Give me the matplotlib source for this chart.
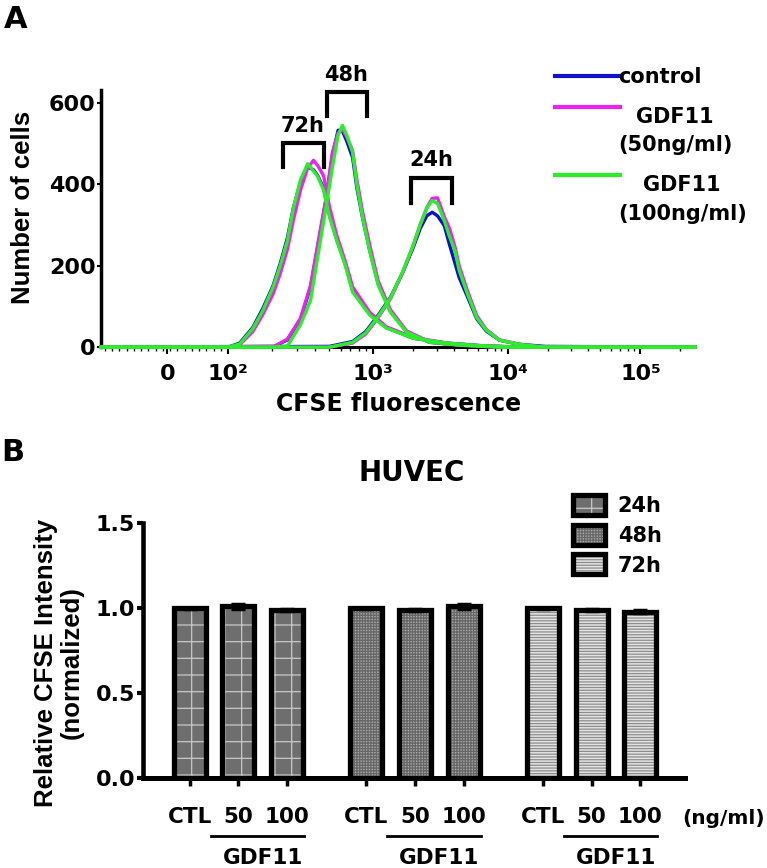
import numpy as np
import matplotlib
matplotlib.use('Agg')
import matplotlib.pyplot as plt
from matplotlib.lines import Line2D
from matplotlib.ticker import FixedLocator
from matplotlib.legend_handler import HandlerTuple

# ---- panel A: CFSE histograms, x = log10(CFSE fluorescence), y = number of cells
log_fl_72h = [2.00, 2.08, 2.17, 2.24, 2.31, 2.36, 2.41, 2.45, 2.50, 2.55, 2.59, 2.62,
              2.66, 2.70, 2.75, 2.81, 2.86, 2.98, 3.10, 3.30, 3.55, 3.79, 4.09]
cells_72h_control = [0, 10, 48, 95, 150, 205, 268, 340, 405, 442, 435, 420,
                     390, 325, 265, 203, 140, 82, 48, 22, 10, 4, 0]
cells_72h_gdf50 = [0, 6, 38, 80, 130, 180, 240, 310, 385, 440, 458, 445,
                   420, 345, 275, 210, 148, 85, 50, 24, 10, 4, 0]
cells_72h_gdf100 = [0, 8, 45, 90, 147, 200, 262, 340, 410, 450, 432, 418,
                    385, 320, 262, 200, 135, 78, 47, 22, 10, 4, 0]

log_fl_48h = [2.32, 2.41, 2.50, 2.57, 2.63, 2.68, 2.72, 2.76, 2.79, 2.82,
              2.86, 2.89, 2.93, 2.98, 3.04, 3.13, 3.25, 3.42, 3.64, 3.94]
cells_48h_control = [2, 18, 68, 148, 268, 368, 470, 532, 530, 505,
                     465, 390, 315, 235, 155, 88, 38, 12, 5, 0]
cells_48h_gdf50 = [2, 20, 71, 152, 274, 372, 477, 525, 535, 515,
                   482, 410, 330, 248, 162, 92, 40, 13, 5, 0]
cells_48h_gdf100 = [0, 3, 55, 115, 245, 350, 440, 520, 544, 520,
                    478, 397, 316, 233, 152, 86, 37, 12, 5, 0]

log_fl_24h = [2.70, 2.86, 2.95, 3.03, 3.13, 3.22, 3.30, 3.35, 3.40, 3.44, 3.48,
              3.53, 3.57, 3.61, 3.64, 3.70, 3.77, 3.84, 3.94, 4.09, 4.28]
cells_24h_control = [2, 14, 38, 74, 122, 182, 245, 290, 322, 331, 322,
                     298, 250, 205, 171, 125, 70, 40, 17, 7, 2]
cells_24h_gdf50 = [0, 10, 32, 68, 118, 182, 250, 300, 342, 365, 366,
                   320, 290, 245, 200, 140, 78, 44, 18, 7, 0]
cells_24h_gdf100 = [0, 12, 35, 71, 120, 184, 250, 299, 340, 360, 352,
                    310, 270, 235, 189, 132, 73, 42, 17, 7, 0]

conditions = ['control', 'GDF11\n(50ng/ml)', 'GDF11\n(100ng/ml)']
line_colors = ['#1010c8', '#ee22ee', '#2aee2a']

# flow axis: position of each decade on the (biexponential-like) display
decade_u = [1.0, 2.0, 3.0, 4.0, 5.0, 6.0]
decade_pos = [0, 145, 290, 425, 558, 691]
fl_ticks = [1.58, 2, 3, 4, 5]
fl_ticklabels = ['0', '10²', '10³', '10⁴', '10⁵']

# timepoint brackets: label, left, right, top, leg bottom
brackets = [('72h', 2.38, 2.66, 500, 441),
            ('48h', 2.68, 2.96, 625, 568),
            ('24h', 3.28, 3.59, 416, 353)]

# ---- panel B: relative CFSE intensity
timepoints = ['24h', '48h', '72h']
dose_labels = ['CTL', '50', '100']
rel_24h = [1.00, 1.01, 0.99]
rel_48h = [1.00, 0.99, 1.01]
rel_72h = [1.00, 0.99, 0.98]
err_24h = [0.004, 0.012, 0.006]
err_48h = [0.004, 0.008, 0.012]
err_72h = [0.004, 0.006, 0.010]

bar_faces = ['#6e6e6e', '#a8a8a8', '#e4e4e4']
bar_hatches = ['+', '++++++', '------']
hatch_colors = ['#c8c8c8', '#666666', '#8c8c8c']


def fwd(u):
    return np.interp(u, decade_u, decade_pos)


def inv(p):
    return np.interp(p, decade_pos, decade_u)


def main():
    plt.rcParams['font.family'] = ['DejaVu Sans']
    plt.rcParams['font.weight'] = 'bold'
    plt.rcParams['axes.labelweight'] = 'bold'
    plt.rcParams['hatch.linewidth'] = 0.9

    fig = plt.figure(figsize=(7.67, 8.68), dpi=100)
    side_font = dict(family='Liberation Sans', weight='bold', size=18.5)

    # ================= panel A =================
    ax = fig.add_axes([0.132, 0.600, 0.774, 0.296])
    ax.set_xscale('function', functions=(fwd, inv))
    xmin, xmax = 1.124, 5.41
    groups = [
        (log_fl_24h, [cells_24h_control, cells_24h_gdf50, cells_24h_gdf100]),
        (log_fl_48h, [cells_48h_control, cells_48h_gdf50, cells_48h_gdf100]),
        (log_fl_72h, [cells_72h_control, cells_72h_gdf50, cells_72h_gdf100]),
    ]
    handles = []
    for k in range(3):
        for grid, curves in groups:
            x = np.concatenate([[xmin], grid, [xmax]])
            y = np.concatenate([[0], curves[k], [0]])
            ax.plot(x, y, color=line_colors[k], lw=2.4, zorder=3 + k * 0.1,
                    clip_on=False, solid_joinstyle='round')
        handles.append(Line2D([], [], color=line_colors[k], lw=3))

    ax.set_xlim(xmin, xmax)
    ax.set_ylim(0, 630)
    ax.set_yticks([0, 200, 400, 600])
    ax.set_xticks(fl_ticks, fl_ticklabels)
    minor = list(np.arange(1.15, 1.99, 0.05))
    for dec in range(2, 6):
        minor += [dec + np.log10(m) for m in range(2, 10)]
    ax.xaxis.set_minor_locator(FixedLocator([m for m in minor if m < xmax]))
    ax.tick_params(axis='both', labelsize=16, width=1.5)
    ax.tick_params(axis='x', which='major', length=5, pad=7)
    ax.tick_params(axis='x', which='minor', length=3, width=1)
    ax.tick_params(axis='y', length=3, pad=1)
    for s in ['top', 'right']:
        ax.spines[s].set_visible(False)
    ax.spines['left'].set_linewidth(2.5)
    ax.spines['bottom'].set_linewidth(2.2)
    ax.set_xlabel('CFSE fluorescence', fontsize=17, labelpad=6)
    ax.set_ylabel('Number of cells', **side_font)
    ax.yaxis.set_label_coords(-0.1115, 0.545)

    for label, x0, x1, top, bottom in brackets:
        ax.plot([x0, x0, x1, x1], [bottom, top, top, bottom], color='black', lw=3,
                clip_on=False, solid_joinstyle='miter', zorder=5)
        ax.text(np.sqrt(x0 * x1), top + 18, label, ha='center', va='bottom',
                fontsize=15)

    leg = ax.legend(handles, conditions, loc='upper left', bbox_to_anchor=(0.724, 0.923),
                    bbox_transform=fig.transFigure, frameon=False, fontsize=15,
                    handlelength=3.1, handletextpad=-0.1, labelspacing=0.95,
                    borderpad=0, borderaxespad=0)
    for t in leg.get_texts():
        t.set_multialignment('center')
        t.set_linespacing(1.55)
    for h in leg.legend_handles[1:]:
        h.set_ydata(np.asarray(h.get_ydata()) + 18)

    fig.text(0.02, 0.978, 'A', fontsize=22, ha='center', va='center')

    # ================= panel B =================
    bx = fig.add_axes([0.186, 0.104, 0.707, 0.293])
    rel_values = [rel_24h, rel_48h, rel_72h]
    rel_errors = [err_24h, err_48h, err_72h]
    group_step = 3.64
    positions = []
    leg_handles = []
    trans = bx.get_xaxis_transform()
    for g in range(3):
        x = np.arange(3) + g * group_step
        positions += list(x)
        hb = bx.bar(x, rel_values[g], width=0.66, color=bar_faces[g],
                    edgecolor=hatch_colors[g], hatch=bar_hatches[g], linewidth=0, zorder=2)
        eb = bx.bar(x, rel_values[g], width=0.66, fill=False, edgecolor='black',
                    linewidth=3.8, zorder=3)
        bx.errorbar(x, rel_values[g], yerr=rel_errors[g], fmt='none', ecolor='black',
                    elinewidth=2.5, capsize=5, capthick=2.5, zorder=4)
        leg_handles.append((hb, eb))

        # GDF11 underline for the two doses
        bx.plot([x[1] - 0.57, x[2] + 0.35], [-0.228, -0.228], color='black', lw=2,
                transform=trans, clip_on=False)
        bx.text((x[1] + x[2]) / 2, -0.315, 'GDF11', transform=trans, ha='center',
                va='center', fontsize=15.5)

    bx.set_xticks(positions, dose_labels * 3)
    bx.set_xlim(-0.97, 10.2)
    bx.set_ylim(0, 1.5)
    bx.set_yticks([0.0, 0.5, 1.0, 1.5], ['0.0', '0.5', '1.0', '1.5'])
    for s in ['top', 'right']:
        bx.spines[s].set_visible(False)
    bx.spines['left'].set_linewidth(3.3)
    bx.spines['bottom'].set_linewidth(3.6)
    bx.tick_params(axis='x', length=6, width=2.5, pad=15, labelsize=15.5)
    bx.tick_params(axis='y', length=4.5, width=3, pad=1, labelsize=16)
    bx.text(10.14, -0.16, '(ng/ml)', transform=trans, ha='left',
            va='center', fontsize=14.5)
    bx.set_ylabel('Relative CFSE Intensity\n(normalized)', linespacing=1.1, **side_font)
    bx.yaxis.set_label_coords(-0.109, 0.453)

    bx.legend(leg_handles, timepoints, handler_map={tuple: HandlerTuple(ndivide=1)},
              loc='upper left', bbox_to_anchor=(0.747, 0.43), bbox_transform=fig.transFigure,
              frameon=False, fontsize=15, handlelength=1.55, handleheight=1.1,
              handletextpad=0.6, labelspacing=0.42, borderpad=0, borderaxespad=0)

    fig.text(412 / 767, 1 - 473 / 868, 'HUVEC', fontsize=20, ha='center', va='center')
    fig.text(0.017, 0.479, 'B', fontsize=22, ha='center', va='center')

    fig.savefig('out.png', dpi=100)


if __name__ == '__main__':
    main()
